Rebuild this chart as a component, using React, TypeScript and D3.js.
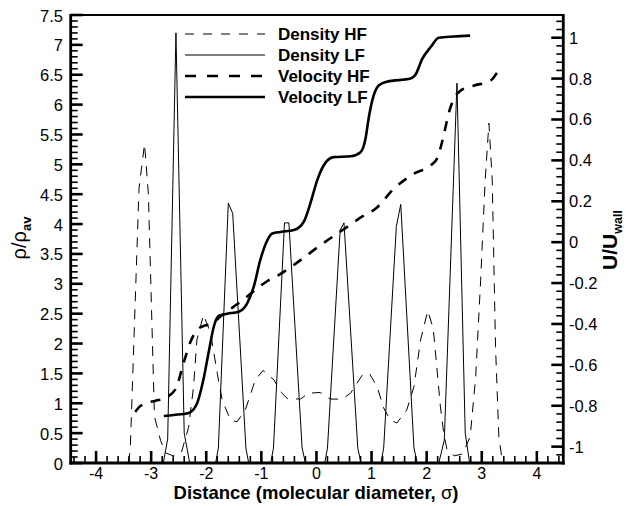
import React from "react";
import * as d3 from "d3";

// ---- Data ----
const densityHFx = [-3.42, -3.38, -3.22, -3.12, -3.05, -2.94, -2.83, -2.74, -2.6, -2.45, -2.32, -2.23, -2.17, -2.05, -1.92, -1.8, -1.71, -1.56, -1.44, -1.29, -1.11, -0.97, -0.77, -0.65, -0.53, -0.29, -0.14, 0.07, 0.25, 0.47, 0.62, 0.83, 0.96, 1.1, 1.22, 1.34, 1.46, 1.64, 1.77, 1.89, 2.02, 2.12, 2.25, 2.31, 2.37, 2.5, 2.65, 2.79, 2.89, 2.98, 3.06, 3.13, 3.19, 3.25, 3.31, 3.37];
const densityHF = [0, 0.2, 4.6, 5.34, 4.5, 0.78, 0.38, 0.17, 0.12, 0.18, 0.6, 1.28, 2.06, 2.48, 2.17, 1.5, 1.05, 0.72, 0.69, 0.89, 1.39, 1.55, 1.39, 1.19, 1.08, 1.07, 1.17, 1.18, 1.07, 1.07, 1.17, 1.47, 1.5, 1.28, 0.92, 0.72, 0.67, 0.89, 1.28, 2.06, 2.55, 2.25, 0.94, 0.5, 0.22, 0.12, 0.15, 0.44, 1.44, 3.06, 4.7, 5.69, 4.74, 1.95, 0.44, 0.05];

const densityLFx = [-2.78, -2.7, -2.55, -2.4, -2.3, -1.83, -1.78, -1.6, -1.52, -1.28, -1.23, -0.83, -0.78, -0.58, -0.5, -0.26, -0.2, 0.15, 0.2, 0.43, 0.5, 0.75, 0.81, 1.17, 1.22, 1.45, 1.53, 1.77, 1.83, 2.22, 2.32, 2.55, 2.7, 2.78];
const densityLF = [0, 0.4, 7.2, 0.5, 0, 0, 0.25, 4.35, 4.18, 0.25, 0, 0, 0.25, 4.02, 4.02, 0.25, 0, 0, 0.25, 3.9, 4.02, 0.25, 0, 0, 0.25, 3.96, 4.33, 0.25, 0, 0, 0.38, 6.36, 0.5, 0];

const velocityHFx = [-3.29, -3.19, -2.92, -2.77, -2.56, -2.41, -2.29, -2.17, -2.05, -1.92, -1.68, -1.5, -1.32, -1.14, -0.89, -0.68, -0.29, 0.07, 0.38, 0.56, 0.77, 1.1, 1.4, 1.77, 2.07, 2.19, 2.28, 2.34, 2.4, 2.49, 2.61, 2.85, 3.16, 3.28];
const velocityHF = [-0.83, -0.8, -0.775, -0.765, -0.72, -0.59, -0.49, -0.43, -0.41, -0.4, -0.35, -0.315, -0.28, -0.24, -0.19, -0.16, -0.088, -0.015, 0.042, 0.075, 0.115, 0.17, 0.26, 0.335, 0.375, 0.41, 0.49, 0.56, 0.63, 0.7, 0.74, 0.765, 0.79, 0.83];

const velocityLFx = [-2.77, -2.59, -2.32, -2.17, -2.05, -1.95, -1.86, -1.77, -1.62, -1.41, -1.26, -1.14, -1.02, -0.89, -0.8, -0.65, -0.41, -0.23, -0.11, 0.01, 0.13, 0.31, 0.62, 0.8, 0.89, 0.95, 1.01, 1.13, 1.28, 1.71, 1.8, 1.92, 2.07, 2.22, 2.49, 2.79];
const velocityLF = [-0.85, -0.845, -0.835, -0.79, -0.67, -0.53, -0.41, -0.36, -0.35, -0.34, -0.3, -0.22, -0.088, 0.01, 0.042, 0.05, 0.059, 0.1, 0.19, 0.3, 0.375, 0.416, 0.42, 0.44, 0.506, 0.61, 0.69, 0.766, 0.785, 0.8, 0.82, 0.896, 0.953, 1.0, 1.006, 1.01];

const xTicks = [-4, -3, -2, -1, 0, 1, 2, 3, 4];
const leftTicks = [0, 0.5, 1, 1.5, 2, 2.5, 3, 3.5, 4, 4.5, 5, 5.5, 6, 6.5, 7, 7.5];
const rightTicks = [-1, -0.8, -0.6, -0.4, -0.2, 0, 0.2, 0.4, 0.6, 0.8, 1];
const legendLabels = ["Density HF", "Density LF", "Velocity HF", "Velocity LF"];

// ---- Layout ----
const W = 631, H = 506;
const L = 70.7, R = 563.3, T = 15, B = 463;

export default function App() {
  const x = d3.scaleLinear().domain([-4.46, 4.48]).range([L, R]);
  const yL = d3.scaleLinear().domain([0, 7.5]).range([B, T]);
  const yR = d3.scaleLinear().domain([-1.08, 1.111]).range([B, T]);

  const mk = (xs: number[], ys: number[]) => xs.map((v, i) => [v, ys[i]] as [number, number]);
  const lineL = d3.line<[number, number]>().x(d => x(d[0])).y(d => yL(d[1]));
  const lineR = d3.line<[number, number]>().x(d => x(d[0])).y(d => yR(d[1])).curve(d3.curveMonotoneX);

  const xMinor = d3.range(-44, 45, 2).map(v => v / 10).filter(v => Math.abs(v - Math.round(v)) > 1e-6);
  const lMinor = d3.range(0, 76, 1).map(v => v / 10).filter(v => Math.abs(v * 2 - Math.round(v * 2)) > 1e-6);
  const rMinor = d3.range(-27, 28, 1).map(v => v * 0.04).filter(v => Math.abs(v * 5 - Math.round(v * 5)) > 1e-6);

  const font = "Liberation Sans, Arial, Helvetica, sans-serif";
  const legendStyles = [
    { w: 1, dash: "9,9" },
    { w: 1, dash: "" },
    { w: 2.6, dash: "11,11" },
    { w: 2.6, dash: "" },
  ];

  return (
    <svg width={W} height={H} style={{ position: "absolute", left: 0, top: 0 }} fontFamily={font}>
      <rect width={W} height={H} fill="#fff" />
      <defs>
        <clipPath id="plot">
          <rect x={L} y={T} width={R - L} height={B - T} />
        </clipPath>
      </defs>
      <g clipPath="url(#plot)" fill="none" stroke="#000">
        <path d={lineL(mk(densityHFx, densityHF)) || ""} strokeWidth={1} strokeDasharray="10,8" />
        <path d={lineL(mk(densityLFx, densityLF)) || ""} strokeWidth={1} />
        <path d={lineR(mk(velocityHFx, velocityHF)) || ""} strokeWidth={2.6} strokeDasharray="10,9" />
        <path d={lineR(mk(velocityLFx, velocityLF)) || ""} strokeWidth={2.6} />
      </g>

      {/* frame */}
      <g stroke="#000" fill="none">
        <line x1={L} x2={R} y1={T} y2={T} strokeWidth={2} />
        <line x1={L} x2={L} y1={T - 1} y2={B + 1.5} strokeWidth={2.8} />
        <line x1={R} x2={R} y1={T - 1} y2={B + 1.5} strokeWidth={2.8} />
        <line x1={L - 1.4} x2={R + 1.4} y1={B} y2={B} strokeWidth={2.8} />
      </g>

      {/* ticks */}
      <g stroke="#000">
        {xTicks.map(t => <line key={"xM" + t} x1={x(t)} x2={x(t)} y1={B} y2={B - 12} strokeWidth={2.6} />)}
        {xMinor.map(t => <line key={"xm" + t} x1={x(t)} x2={x(t)} y1={B} y2={B - 7} strokeWidth={1.6} />)}
        {leftTicks.map(t => <line key={"lM" + t} x1={L} x2={L + 12} y1={yL(t)} y2={yL(t)} strokeWidth={2.6} />)}
        {lMinor.map(t => <line key={"lm" + t} x1={L} x2={L + 7} y1={yL(t)} y2={yL(t)} strokeWidth={1.6} />)}
        {rightTicks.map(t => <line key={"rM" + t} x1={R} x2={R - 12} y1={yR(t)} y2={yR(t)} strokeWidth={2.6} />)}
        {rMinor.map(t => <line key={"rm" + t} x1={R} x2={R - 7} y1={yR(t)} y2={yR(t)} strokeWidth={1.6} />)}
      </g>

      {/* tick labels */}
      <g fontSize={16.5} fill="#000">
        {xTicks.map(t => <text key={"xl" + t} x={x(t)} y={478.5} fontSize={16} textAnchor="middle">{t}</text>)}
        {leftTicks.map(t => <text key={"ll" + t} x={63} y={yL(t) + 6.5} textAnchor="end">{t}</text>)}
        {rightTicks.map(t => <text key={"rl" + t} x={569} y={yR(t) + 6} textAnchor="start">{t}</text>)}
      </g>

      {/* axis titles */}
      <text x={316} y={499} textAnchor="middle" fontSize={18.5} fontWeight="bold">
        Distance (molecular diameter, <tspan fontWeight="normal">σ</tspan>)
      </text>
      <text transform="translate(26,238) rotate(-90)" textAnchor="middle" fontSize={20}>
        ρ/ρ<tspan fontSize={13} fontWeight="bold" dy={5}>av</tspan>
      </text>
      <text transform="translate(617,240) rotate(-90)" textAnchor="middle" fontSize={21} fontWeight="bold">
        U/U<tspan fontSize={12.5} dy={5}>wall</tspan>
      </text>

      {/* legend */}
      <g>
        {legendLabels.map((lab, i) => {
          const yy = 34 + i * 21;
          const s = legendStyles[i];
          return (
            <g key={lab}>
              <line x1={185} x2={265} y1={yy} y2={yy} stroke="#000" strokeWidth={s.w} strokeDasharray={s.dash || undefined} />
              <text x={278} y={yy + 6} fontSize={17} fontWeight="bold">{lab}</text>
            </g>
          );
        })}
      </g>
    </svg>
  );
}
